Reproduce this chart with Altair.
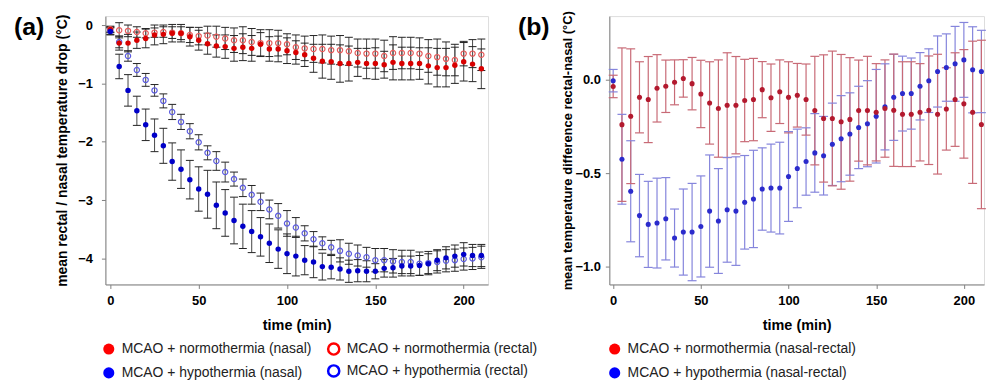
import altair as alt
import pandas as pd

FONT = "Liberation Sans"

time_min = list(range(0, 215, 5))
panel_labels = ["(a)", "(b)"]

labels_a = [
    "MCAO + normothermia (nasal)",
    "MCAO + hypothermia (nasal)",
    "MCAO + normothermia (rectal)",
    "MCAO + hypothermia (rectal)",
]
labels_b = [
    "MCAO + normothermia (nasal-rectal)",
    "MCAO + hypothermia (nasal-rectal)",
]

# ---- panel (a) ----
normo_nasal = [-0.08, -0.31, -0.31, -0.26, -0.23, -0.17, -0.16, -0.14, -0.14, -0.20,
               -0.26, -0.32, -0.36, -0.37, -0.40, -0.38, -0.40, -0.33, -0.41, -0.41,
               -0.44, -0.47, -0.51, -0.57, -0.62, -0.63, -0.66, -0.66, -0.64, -0.66,
               -0.66, -0.68, -0.64, -0.66, -0.66, -0.66, -0.70, -0.73, -0.73, -0.69,
               -0.63, -0.67, -0.75]
normo_nasal_se = [0.05, 0.12, 0.15, 0.14, 0.16, 0.17, 0.16, 0.15, 0.15, 0.16,
                  0.17, 0.18, 0.19, 0.20, 0.22, 0.23, 0.22, 0.20, 0.21, 0.22,
                  0.22, 0.20, 0.20, 0.24, 0.29, 0.30, 0.32, 0.30, 0.24, 0.26,
                  0.27, 0.23, 0.30, 0.28, 0.28, 0.27, 0.31, 0.33, 0.33, 0.31,
                  0.33, 0.30, 0.34]
normo_rectal = [-0.07, -0.09, -0.10, -0.12, -0.14, -0.13, -0.12, -0.13, -0.14, -0.17,
                -0.19, -0.18, -0.20, -0.23, -0.26, -0.26, -0.29, -0.31, -0.31, -0.31,
                -0.33, -0.38, -0.40, -0.41, -0.41, -0.43, -0.43, -0.45, -0.48, -0.49,
                -0.49, -0.53, -0.48, -0.48, -0.48, -0.49, -0.53, -0.55, -0.58, -0.60,
                -0.49, -0.49, -0.51]
normo_rectal_se = [0.05, 0.13, 0.10, 0.09, 0.08, 0.08, 0.09, 0.10, 0.11, 0.13,
                   0.15, 0.16, 0.18, 0.19, 0.21, 0.23, 0.23, 0.23, 0.23, 0.22,
                   0.18, 0.21, 0.21, 0.23, 0.24, 0.24, 0.25, 0.24, 0.24, 0.25,
                   0.25, 0.27, 0.28, 0.27, 0.27, 0.27, 0.28, 0.31, 0.29, 0.27,
                   0.21, 0.24, 0.27]
hypo_nasal = [-0.11, -0.71, -1.12, -1.47, -1.71, -1.89, -2.07, -2.34, -2.47, -2.65,
              -2.81, -2.90, -3.09, -3.22, -3.35, -3.45, -3.54, -3.63, -3.74, -3.84,
              -3.92, -3.96, -4.03, -4.06, -4.14, -4.15, -4.18, -4.22, -4.21, -4.22,
              -4.22, -4.17, -4.16, -4.13, -4.13, -4.12, -4.09, -4.03, -3.99, -3.96,
              -3.93, -3.95, -3.95]
hypo_nasal_se = [0.06, 0.21, 0.27, 0.25, 0.27, 0.28, 0.30, 0.32, 0.33, 0.33,
                 0.38, 0.41, 0.40, 0.40, 0.40, 0.38, 0.36, 0.33, 0.33, 0.33,
                 0.34, 0.34, 0.25, 0.27, 0.23, 0.20, 0.19, 0.19, 0.19, 0.18,
                 0.13, 0.15, 0.16, 0.17, 0.17, 0.17, 0.17, 0.18, 0.19, 0.19,
                 0.20, 0.19, 0.19]
hypo_rectal = [-0.10, -0.29, -0.53, -0.77, -0.94, -1.12, -1.30, -1.49, -1.66, -1.82,
               -2.01, -2.19, -2.33, -2.52, -2.64, -2.79, -2.91, -3.03, -3.16, -3.27,
               -3.40, -3.47, -3.57, -3.67, -3.74, -3.81, -3.87, -3.92, -3.95, -3.98,
               -4.03, -4.03, -4.05, -4.06, -4.06, -4.09, -4.08, -4.06, -4.04, -4.03,
               -4.01, -4.00, -3.98]
hypo_rectal_se = [0.06, 0.10, 0.09, 0.11, 0.11, 0.10, 0.12, 0.13, 0.13, 0.13,
                  0.13, 0.12, 0.16, 0.17, 0.12, 0.15, 0.16, 0.15, 0.16, 0.21,
                  0.22, 0.17, 0.13, 0.13, 0.11, 0.12, 0.19, 0.18, 0.18, 0.17,
                  0.20, 0.20, 0.20, 0.20, 0.20, 0.20, 0.20, 0.19, 0.19, 0.19,
                  0.19, 0.19, 0.19]

# ---- panel (b) ----
normo_diff = [-0.036, -0.24, -0.195, -0.094, -0.106, -0.046, -0.035, -0.014, 0.007, -0.021,
              -0.076, -0.124, -0.154, -0.136, -0.136, -0.111, -0.106, -0.053, -0.096, -0.064,
              -0.094, -0.083, -0.106, -0.165, -0.207, -0.207, -0.225, -0.212, -0.165, -0.165,
              -0.174, -0.154, -0.163, -0.184, -0.184, -0.174, -0.163, -0.184, -0.156, -0.106,
              -0.129, -0.174, -0.239]
normo_diff_se = [0.06, 0.41, 0.36, 0.19, 0.23, 0.18, 0.14, 0.12, 0.10, 0.14,
                 0.18, 0.22, 0.26, 0.28, 0.26, 0.22, 0.22, 0.15, 0.18, 0.17,
                 0.19, 0.17, 0.19, 0.29, 0.34, 0.36, 0.36, 0.33, 0.27, 0.29,
                 0.26, 0.26, 0.30, 0.28, 0.28, 0.26, 0.29, 0.32, 0.22, 0.25,
                 0.29, 0.38, 0.45]
hypo_diff = [-0.005, -0.425, -0.596, -0.726, -0.773, -0.766, -0.743, -0.846, -0.814, -0.814,
             -0.784, -0.702, -0.755, -0.695, -0.702, -0.655, -0.637, -0.584, -0.579, -0.579,
             -0.517, -0.474, -0.437, -0.391, -0.406, -0.345, -0.315, -0.290, -0.255, -0.235,
             -0.195, -0.145, -0.094, -0.074, -0.074, -0.035, -0.005, 0.044, 0.065, 0.085,
             0.106, 0.053, 0.044]
hypo_diff_se = [0.06, 0.24, 0.27, 0.22, 0.23, 0.24, 0.22, 0.155, 0.23, 0.26,
                0.27, 0.30, 0.28, 0.28, 0.29, 0.25, 0.26, 0.22, 0.235, 0.245,
                0.24, 0.21, 0.18, 0.21, 0.21, 0.22, 0.23, 0.22, 0.22, 0.23,
                0.25, 0.23, 0.23, 0.20, 0.19, 0.18, 0.17, 0.19, 0.18, 0.20,
                0.20, 0.23, 0.22]


def frame(series, kind, vals, ses):
    d = pd.DataFrame({"time": time_min, "value": vals, "se": ses})
    d["series"] = series
    d["kind"] = kind
    d["lo"] = d["value"] - d["se"]
    d["hi"] = d["value"] + d["se"]
    return d


dfa = pd.concat([
    frame(labels_a[0], "nasal", normo_nasal, normo_nasal_se),
    frame(labels_a[2], "rectal", normo_rectal, normo_rectal_se),
    frame(labels_a[3], "rectal", hypo_rectal, hypo_rectal_se),
    frame(labels_a[1], "nasal", hypo_nasal, hypo_nasal_se),
], ignore_index=True)

dfb = pd.concat([
    frame(labels_b[1], "diff", hypo_diff, hypo_diff_se),
    frame(labels_b[0], "diff", normo_diff, normo_diff_se),
], ignore_index=True)

PLOT_H = 270
AX = dict(domainColor="#808080", tickColor="#808080", tickSize=4, grid=False,
          labelFont=FONT, labelFontSize=13, labelFontWeight="bold", labelColor="black",
          titleFont=FONT, titleFontWeight="bold", titleColor="black")

LEG = dict(orient="none", title=None, direction="vertical", symbolType="circle",
           symbolSize=125, symbolOpacity=1, labelFont=FONT, labelFontSize=14,
           labelColor="#222222", labelOffset=6, padding=0, labelLimit=500)
LEG_Y = 328


def panel_label(text):
    return alt.Chart(pd.DataFrame({"label": [text]})).mark_text(
        align="left", baseline="alphabetic", font=FONT, fontSize=25, fontWeight="bold",
        color="black").encode(x=alt.value(-92), y=alt.value(19), text="label:N")


# ---------- panel (a) ----------
sx_a = alt.Scale(domain=[-2.8, 213.8], nice=False, zero=False)
sy_a = alt.Scale(domain=[-4.446, 0.153], nice=False, zero=False)
ax_xa = alt.Axis(values=[0, 50, 100, 150, 200], title="time (min)", titleFontSize=14.5,
                 labelPadding=6, titlePadding=11, **AX)
ax_ya = alt.Axis(values=[0, -1, -2, -3, -4], format="d",
                 title="mean rectal / nasal temperature drop (°C)", titleFontSize=14,
                 labelPadding=9, titlePadding=8, **AX)


def xa():
    return alt.X("time:Q", scale=sx_a, axis=ax_xa, title="time (min)")


def ya(field):
    return alt.Y(f"{field}:Q", scale=sy_a, axis=ax_ya,
                 title="mean rectal / nasal temperature drop (°C)")


base_a = alt.Chart(dfa)
bars_a = base_a.mark_rule(color="#555555", strokeWidth=1.1).encode(x=xa(), y=ya("lo"), y2="hi:Q")
cap_lo_a = base_a.mark_point(shape="M-1,0L1,0", size=64, filled=False, color="#222222",
                             strokeWidth=1, opacity=1).encode(x=xa(), y=ya("lo"))
cap_hi_a = base_a.mark_point(shape="M-1,0L1,0", size=64, filled=False, color="#222222",
                             strokeWidth=1, opacity=1).encode(x=xa(), y=ya("hi"))
col_a = alt.Color("series:N", scale=alt.Scale(domain=labels_a,
                  range=["#d80000", "#0000c8", "#e65a5a", "#5b5be0"]), legend=None)
open_a = base_a.transform_filter(alt.datum.kind == "rectal").mark_point(
    filled=False, size=28, strokeWidth=1.2, opacity=1).encode(x=xa(), y=ya("value"), color=col_a)
fill_a = base_a.transform_filter(alt.datum.kind == "nasal").mark_point(
    filled=True, size=30, opacity=1).encode(x=xa(), y=ya("value"), color=col_a)

leg_fill_a = base_a.transform_filter(alt.datum.kind == "nasal").mark_point(
    filled=True, opacity=0).encode(
    x=xa(), y=ya("value"),
    fill=alt.Fill("series:N", scale=alt.Scale(domain=labels_a[:2], range=["#ff0000", "#0000ff"]),
                  legend=alt.Legend(legendX=-3.6, legendY=LEG_Y, rowPadding=10,
                                    symbolStrokeWidth=0, **LEG)))
leg_stroke_a = base_a.transform_filter(alt.datum.kind == "rectal").mark_point(
    filled=False, opacity=0).encode(
    x=xa(), y=ya("value"),
    stroke=alt.Stroke("series:N", scale=alt.Scale(domain=labels_a[2:], range=["#ff0000", "#0000ff"]),
                      legend=alt.Legend(legendX=222.7, legendY=LEG_Y, rowPadding=0,
                                        symbolStrokeWidth=2.5, **LEG)))

panel_a = alt.layer(bars_a, cap_lo_a, cap_hi_a, open_a, fill_a, leg_fill_a, leg_stroke_a,
                    panel_label(panel_labels[0])).properties(width=385, height=PLOT_H)

# ---------- panel (b) ----------
sx_b = alt.Scale(domain=[-2.2, 211.5], nice=False, zero=False)
sy_b = alt.Scale(domain=[-1.094, 0.34], nice=False, zero=False)
ax_xb = alt.Axis(values=[0, 50, 100, 150, 200], title="time (min)", titleFontSize=14.5,
                 labelPadding=6, titlePadding=11, **AX)
ax_yb = alt.Axis(values=[0, -0.5, -1.0], format=".1f",
                 title="mean temperature difference rectal-nasal (°C)", titleFontSize=13,
                 labelPadding=5, titlePadding=0, **AX)


def xb():
    return alt.X("time:Q", scale=sx_b, axis=ax_xb, title="time (min)")


def yb(field):
    return alt.Y(f"{field}:Q", scale=sy_b, axis=ax_yb,
                 title="mean temperature difference rectal-nasal (°C)")


# data-colour scales list hypothermia first, so that their domain differs from the legend's
order_b = [labels_b[1], labels_b[0]]
base_b = alt.Chart(dfb)
bar_col_b = alt.Stroke("series:N", scale=alt.Scale(domain=order_b, range=["#8585dc", "#c86a76"]),
                       legend=None)
bars_b = base_b.mark_rule(strokeWidth=1.2).encode(x=xb(), y=yb("lo"), y2="hi:Q", stroke=bar_col_b)
cap_lo_b = base_b.mark_point(shape="M-1,0L1,0", size=81, filled=False, strokeWidth=1.2,
                             opacity=1).encode(x=xb(), y=yb("lo"), stroke=bar_col_b)
cap_hi_b = base_b.mark_point(shape="M-1,0L1,0", size=81, filled=False, strokeWidth=1.2,
                             opacity=1).encode(x=xb(), y=yb("hi"), stroke=bar_col_b)
pts_b = base_b.mark_point(filled=True, size=26, opacity=1).encode(
    x=xb(), y=yb("value"),
    fill=alt.Fill("series:N", scale=alt.Scale(domain=order_b, range=["#2b2bcc", "#b3192e"]),
                  legend=None))
leg_b = base_b.mark_point(filled=True, opacity=0).encode(
    x=xb(), y=yb("value"),
    color=alt.Color("series:N", scale=alt.Scale(domain=labels_b, range=["#ff0000", "#0000ff"]),
                    legend=alt.Legend(legendX=-1.6, legendY=LEG_Y, rowPadding=10,
                                      symbolStrokeWidth=0, **LEG)))

panel_b = alt.layer(bars_b, cap_lo_b, cap_hi_b, pts_b, leg_b,
                    panel_label(panel_labels[1])).properties(width=377, height=PLOT_H)

chart = alt.hconcat(panel_a, panel_b, spacing=122, bounds="flush").resolve_scale(
    x="independent", y="independent", color="independent", fill="independent",
    stroke="independent").resolve_legend(
    color="independent", fill="independent", stroke="independent").properties(
    padding={"left": 5, "top": 0, "right": 0, "bottom": 0}
).configure_view(stroke=None).configure(background="white")

chart.save("out.html", embed_options={"renderer": "svg", "actions": False})
